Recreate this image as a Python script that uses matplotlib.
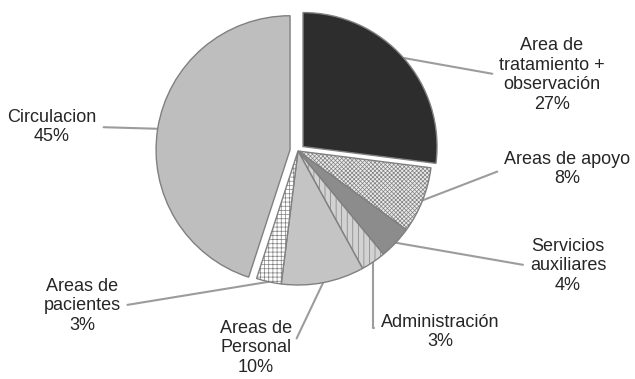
import math
import matplotlib
matplotlib.use("Agg")
import matplotlib.pyplot as plt

# --------------------------------------------------------------------------- #
# Datos
# --------------------------------------------------------------------------- #
areas = [
    "Area de\ntratamiento +\nobservación",
    "Areas de apoyo",
    "Servicios\nauxiliares",
    "Administración",
    "Areas de\nPersonal",
    "Areas de\npacientes",
    "Circulacion",
]
porcentajes = [27, 8, 4, 3, 10, 3, 45]

# --------------------------------------------------------------------------- #
# Estilo
# --------------------------------------------------------------------------- #
W, H = 635, 379
R = 134
CENTRO = (298, H - 151)
SEPARACION = [0.05, 0, 0, 0, 0, 0, 0.06]          # fracción del radio
COLORES = ["#2d2d2d", "#ececec", "#8c8c8c", "#d2d2d2", "#c4c4c4", "#ffffff", "#bebebe"]
TRAMAS = [None, "xxxxxxxx", None, "|||", None, "++++", None]
BORDE = "#808080"
LINEA = "#9c9c9c"

# posición del texto (px desde arriba-izquierda), punto de unión del texto
ETIQUETAS = [
    ((552, 75), (0.0, 0.5)),
    ((567, 169), (0.0, 0.5)),
    ((568, 266), (0.0, 0.5)),
    ((440, 332), (0.0, 0.6)),
    ((256, 348), (1.0, 0.5)),
    ((82, 306), (1.0, 0.5)),
    ((52, 127), (1.0, 0.5)),
]

plt.rcParams["font.family"] = ["Liberation Sans", "DejaVu Sans"]
plt.rcParams["hatch.linewidth"] = 0.5

fig = plt.figure(figsize=(W / 100, H / 100), dpi=100)
ax = fig.add_axes([0, 0, 1, 1])

wedges, _ = ax.pie(
    porcentajes,
    explode=[e * R for e in SEPARACION],
    colors=COLORES,
    startangle=90,
    counterclock=False,
    center=CENTRO,
    radius=R,
    wedgeprops=dict(edgecolor=BORDE, linewidth=1.0),
)
for w, t in zip(wedges, TRAMAS):
    if t:
        w.set_hatch(t)

ax.set_xlim(0, W)
ax.set_ylim(0, H)
ax.set_aspect("equal")
ax.axis("off")

# etiquetas con líneas guía hacia el borde de cada sector
for i, (w, nombre, pct) in enumerate(zip(wedges, areas, porcentajes)):
    ang = math.radians((w.theta1 + w.theta2) / 2)
    cx, cy = w.center
    punto = (cx + w.r * math.cos(ang), cy + w.r * math.sin(ang))
    (tx, ty), rel = ETIQUETAS[i]
    estilo = "angle,angleA=0,angleB=90,rad=0" if nombre == "Administración" else "arc3"
    ax.annotate(
        f"{nombre}\n{pct}%",
        xy=punto, xytext=(tx, H - ty),
        ha="center", va="center", multialignment="center",
        fontsize=13, color="#262626", linespacing=1.2,
        arrowprops=dict(arrowstyle="-", color=LINEA, lw=1.5,
                        shrinkA=3, shrinkB=0, relpos=rel,
                        connectionstyle=estilo),
        zorder=0,
    )

fig.savefig("out.png", dpi=100, facecolor="white")
